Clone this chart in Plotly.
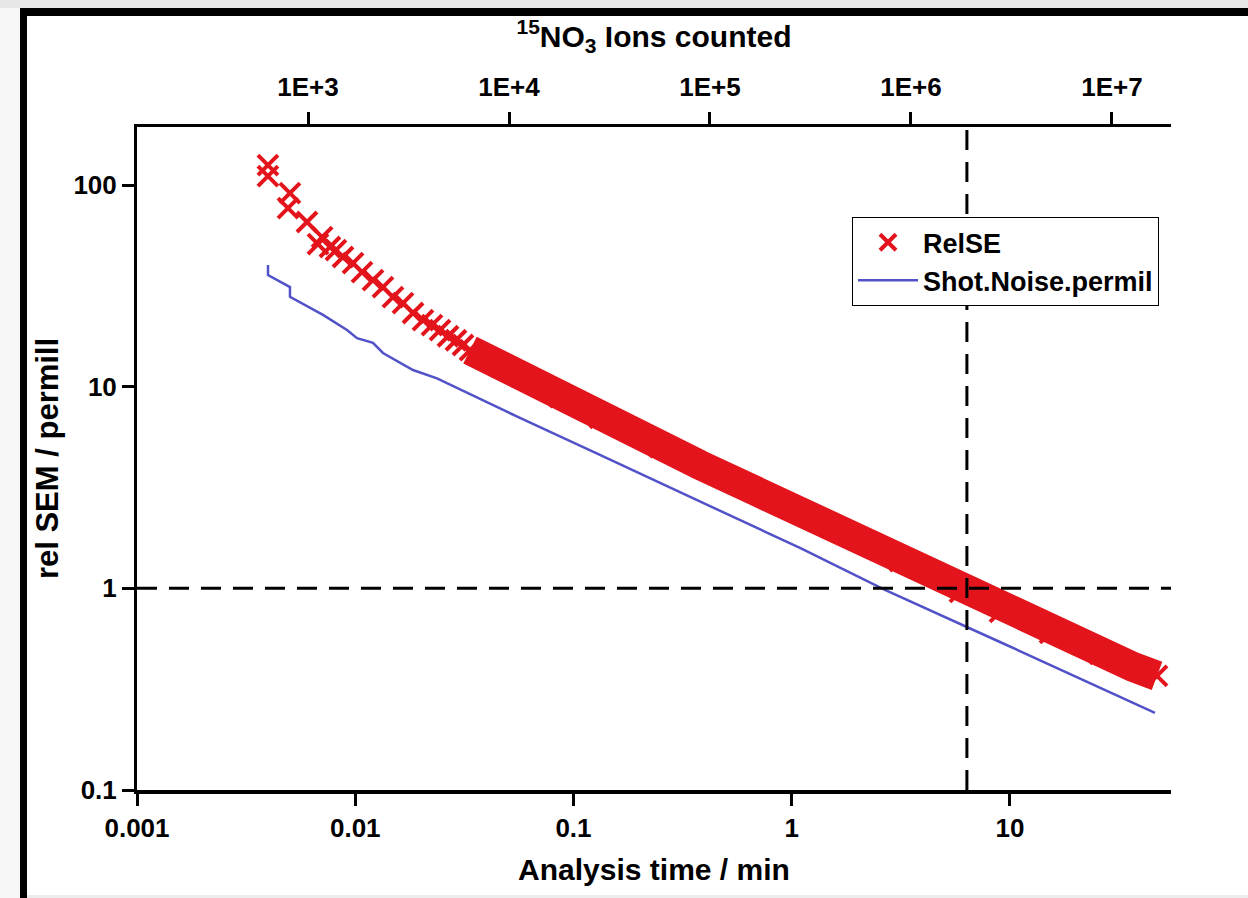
import plotly.graph_objects as go

# ---------------- data ----------------
relse_time_min = [0.00398, 0.00398, 0.00502, 0.00492, 0.00601, 0.00675, 0.00705, 0.00766,
                  0.00816, 0.00879, 0.00977, 0.01074, 0.01206, 0.01340, 0.01489, 0.01655,
                  0.01840, 0.02044, 0.02247, 0.02446, 0.02661, 0.02895, 0.03117,
                  0.03356, 0.04604, 0.05685, 0.08671, 0.1322, 0.2490, 0.3798,
                  0.7152, 1.347, 3.133, 5.90, 9.00, 15.26, 25.85, 36.6, 47.2]
relse_permil = [125.6, 110.8, 91.3, 76.9, 65.6, 51.0, 55.2, 49.3,
                47.6, 44.0, 41.0, 37.0, 33.8, 31.2, 27.8, 26.0,
                23.2, 21.4, 20.2, 19.1, 17.8, 17.0, 16.1,
                15.2, 12.66, 11.30, 8.89, 7.00, 5.02, 4.09,
                2.97, 2.16, 1.367, 0.960, 0.764, 0.601, 0.473, 0.408, 0.368]
# from this index on the markers are so dense that they merge into one band
dense_from = 23

shot_time_min = [0.003984, 0.003984, 0.005023, 0.005023, 0.007116, 0.009168, 0.01019,
                 0.01206, 0.01340, 0.01839, 0.02369, 0.05685, 0.1322, 0.3798, 1.091,
                 2.675, 9.00, 46.2]
shot_noise_permil = [40.1, 35.8, 31.2, 27.9, 22.7, 19.1, 17.4,
                     16.5, 14.7, 12.1, 11.0, 7.00, 4.59, 2.71, 1.586,
                     0.982, 0.542, 0.241]

x_tickvals = [0.001, 0.01, 0.1, 1, 10]
x_ticktext = ["0.001", "0.01", "0.1", "1", "10"]
y_tickvals = [0.1, 1, 10, 100]
y_ticktext = ["0.1", "1", "10", "100"]
ions_tickvals = [1e3, 1e4, 1e5, 1e6, 1e7]
ions_ticktext = ["1E+3", "1E+4", "1E+5", "1E+6", "1E+7"]

ref_permil = 1.0      # horizontal dashed reference
ref_time_min = 6.35   # vertical dashed reference

RED = "#e3141b"
BLUE = "#5252c8"
FONT = "Liberation Sans"

fig = go.Figure()

# dense part of the RelSE marker cloud (visually a solid band)
fig.add_trace(go.Scatter(
    x=relse_time_min[dense_from:], y=relse_permil[dense_from:],
    mode="lines", line=dict(color=RED, width=30),
    showlegend=False, hoverinfo="skip"))

fig.add_trace(go.Scatter(
    x=relse_time_min, y=relse_permil, mode="markers", name="RelSE",
    marker=dict(symbol="x-thin", size=20, color=RED,
                line=dict(color=RED, width=4))))

fig.add_trace(go.Scatter(
    x=shot_time_min, y=shot_noise_permil, mode="lines", name="Shot.Noise.permil",
    line=dict(color=BLUE, width=2.5)))

# empty trace so that the top (ions counted) axis is drawn
fig.add_trace(go.Scatter(x=[ions_tickvals[0]], y=[None], xaxis="x2", yaxis="y",
                         mode="markers", showlegend=False, hoverinfo="skip"))

axis_common = dict(showgrid=False, zeroline=False, showline=True, linecolor="black",
                   ticks="outside", tickcolor="black", tickwidth=3, ticklen=12,
                   tickfont=dict(family=FONT, size=26, color="black", weight="bold"))

fig.update_layout(
    width=1248, height=898,
    margin=dict(l=137, r=77, t=127, b=108),
    paper_bgcolor="white", plot_bgcolor="white",
    font=dict(family=FONT, color="black", size=26, weight="bold"),
    xaxis=dict(type="log", range=[-3, 1.738], tickvals=x_tickvals, ticktext=x_ticktext,
               linewidth=3.5,
               title=dict(text="Analysis time / min", standoff=18,
                          font=dict(family=FONT, size=30, weight="bold")),
               **axis_common),
    xaxis2=dict(type="log", range=[2.149, 7.294], overlaying="x", side="top",
                anchor="y", tickvals=ions_tickvals, ticktext=ions_ticktext,
                linewidth=3, ticklabelstandoff=6,
                title=dict(text="<sup>15</sup>NO<sub>3</sub> Ions counted", standoff=16,
                           font=dict(family=FONT, size=30, weight="bold")),
                **axis_common),
    yaxis=dict(type="log", range=[-1, 2.288], tickvals=y_tickvals, ticktext=y_ticktext,
               linewidth=3,
               title=dict(text="rel SEM / permill", standoff=6,
                          font=dict(family=FONT, size=31, weight="bold")),
               **axis_common),
    legend=dict(x=0.6915, y=0.864, xanchor="left", yanchor="top",
                bgcolor="white", bordercolor="black", borderwidth=1,
                font=dict(family=FONT, size=27, color="black", weight="bold"),
                itemwidth=60, tracegroupgap=0),
    showlegend=True,
)

# dashed reference lines
dash = dict(color="black", width=3, dash="20px,12px")
fig.add_shape(type="line", xref="paper", x0=0, x1=1, yref="y", y0=ref_permil, y1=ref_permil,
              line=dash)
fig.add_shape(type="line", xref="x", x0=ref_time_min, x1=ref_time_min, yref="paper", y0=0, y1=1,
              line=dash)

# picture frame around the figure
def px_x(p):
    return (p - 137) / 1034.0

def px_y(p):
    return (790 - p) / 663.0

frame = [
    (px_x(-10), px_x(1260), px_y(8), px_y(-10), "#e6e6e6"),
    (px_x(-10), px_x(20), px_y(910), px_y(8), "#f7f7f7"),
    (px_x(20), px_x(1260), px_y(16), px_y(8), "black"),
    (px_x(20), px_x(27), px_y(910), px_y(8), "black"),
    (px_x(27), px_x(1260), px_y(910), px_y(895), "#ededed"),
]
for x0, x1, y0, y1, col in frame:
    fig.add_shape(type="rect", xref="paper", yref="paper", x0=x0, x1=x1, y0=y0, y1=y1,
                  fillcolor=col, line=dict(width=0), layer="above")

fig.write_html("out.html")
